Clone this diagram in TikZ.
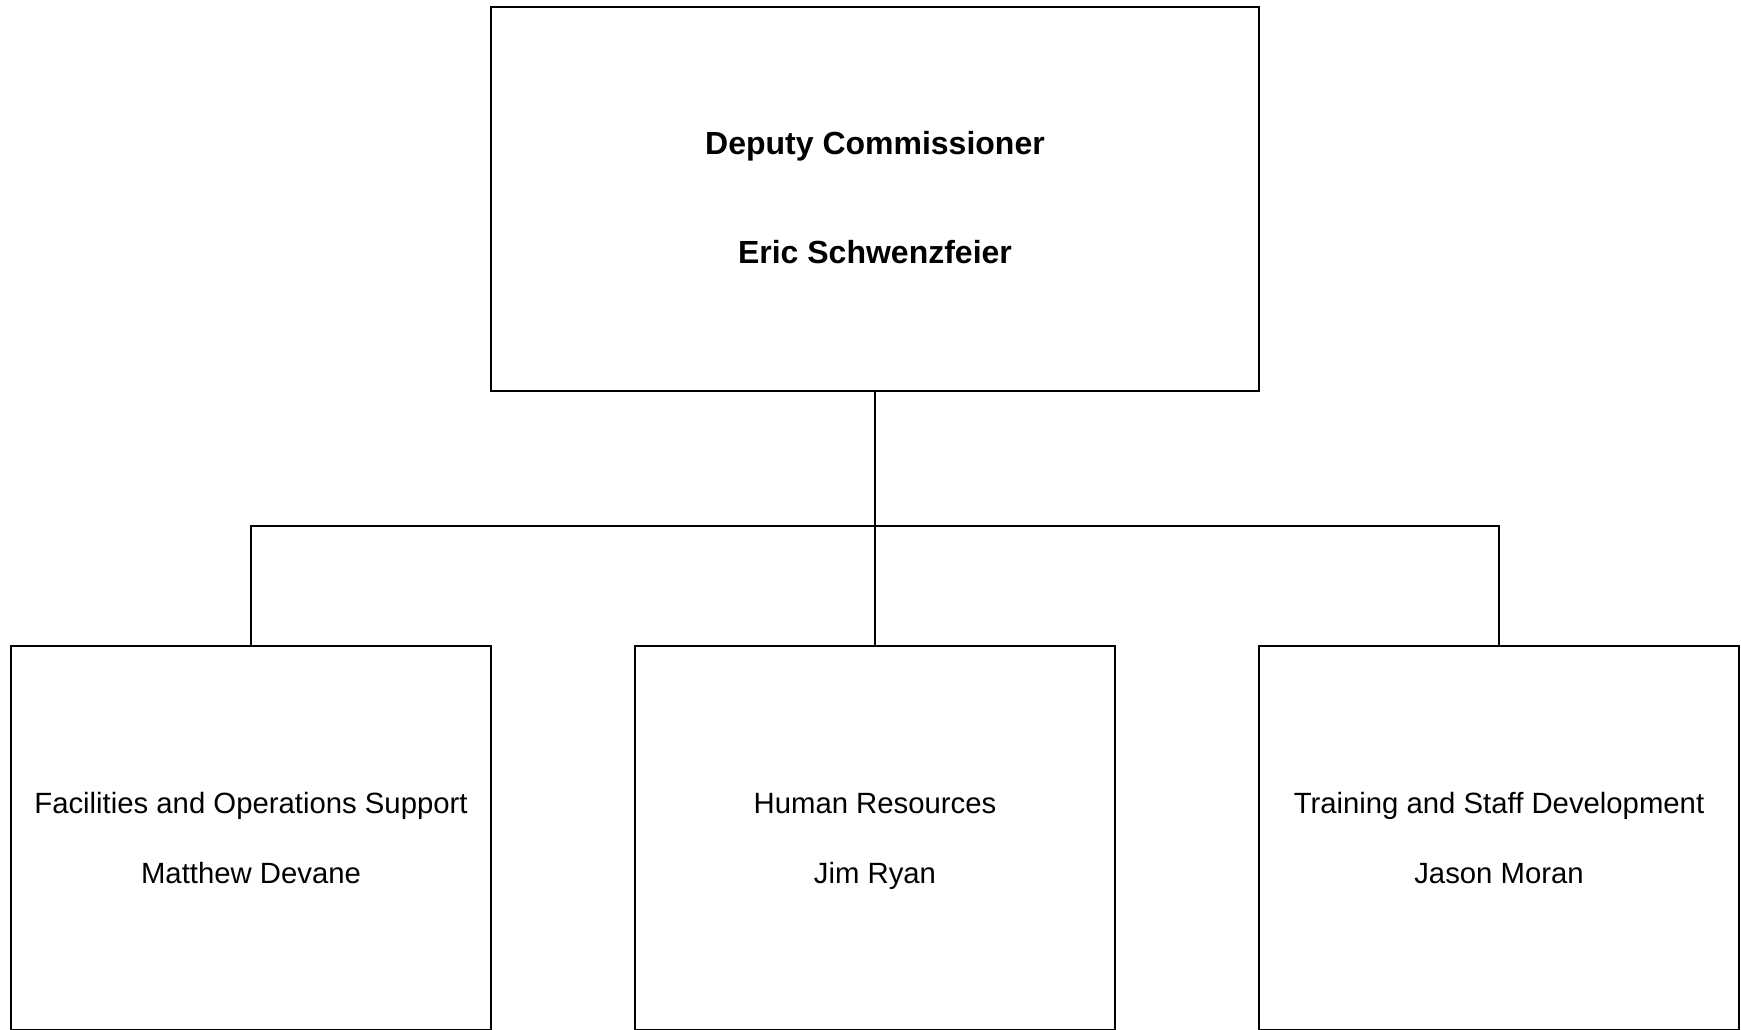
\documentclass[tikz,border=0pt]{standalone}
\usepackage{fontspec}
\setmainfont{Liberation Sans}

\newcommand{\twolines}[4]{\rule{0pt}{#4}\smash{#1}\\[#3]\smash{#2}}

\tikzset{
  unit/.style={draw,line width=1.6pt,inner sep=0pt,align=center,font=\fontsize{29.3}{34}\selectfont},
  head/.style={unit,minimum width=768pt,minimum height=384pt,font=\fontsize{32}{38}\selectfont\bfseries},
  branch/.style={unit,minimum width=480pt,minimum height=384pt},
  link/.style={line width=1.4pt}
}

\begin{document}
\begin{tikzpicture}[x=1pt,y=-1pt]
      \useasboundingbox (0,0) rectangle (1741,1029);
      \clip (0,0) rectangle (1741,1029);

      \node [head] (dc) at (875,199) {\twolines{Deputy Commissioner}{Eric Schwenzfeier}{71pt}{19pt}};
      \node [branch] (fos) at (251,838) {\twolines{Facilities and Operations Support}{Matthew Devane}{36pt}{21pt}};
      \node [branch] (hr) at (875,838) {\twolines{Human Resources}{Jim Ryan}{36pt}{21pt}};
      \node [branch] (tsd) at (1499,838) {\twolines{Training and Staff Development}{Jason Moran}{36pt}{21pt}};

      \coordinate (bus) at (875,526);

      \draw [link] (dc.south) -- (bus);
      \draw [link] (fos.north) |- (bus) -| (tsd.north);
      \draw [link] (hr.north) -- (bus);
    \end{tikzpicture}
\end{document}
